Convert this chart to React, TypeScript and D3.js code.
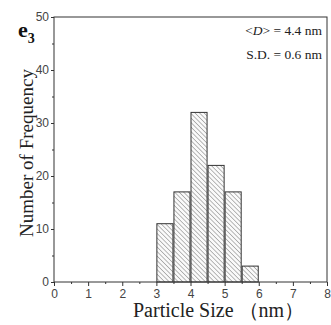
import React, { useEffect, useRef } from 'react';
import * as d3 from 'd3';

// histogram bins (nm) and counts
const binStarts = [3, 3.5, 4, 4.5, 5, 5.5];
const counts = [11, 17, 32, 22, 17, 3];
const xTicks = [0, 1, 2, 3, 4, 5, 6, 7, 8];
const yTicks = [0, 10, 20, 30, 40, 50];
const binWidth = 0.5;

const App = () => {
  const svgRef = useRef<SVGSVGElement>(null);

  useEffect(() => {
    const svg = d3.select(svgRef.current);
    svg.selectAll('*').remove();

    const width = 331;
    const height = 325;
    const left = 54;
    const right = 327;
    const top = 17;
    const bottom = 282;

    const x = d3.scaleLinear().domain([0, 8]).range([left, right]);
    const y = d3.scaleLinear().domain([0, 50]).range([bottom, top]);

    svg.append('rect').attr('width', width).attr('height', height).attr('fill', '#fff');

    // hatch pattern
    const pat = svg.append('defs').append('pattern')
      .attr('id', 'hatch')
      .attr('patternUnits', 'userSpaceOnUse')
      .attr('width', 3.2)
      .attr('height', 3.2)
      .attr('patternTransform', 'rotate(-45)');
    pat.append('rect').attr('width', 3.2).attr('height', 3.2).attr('fill', '#fafafa');
    pat.append('line')
      .attr('x1', 0).attr('y1', 0).attr('x2', 0).attr('y2', 3.2)
      .attr('stroke', '#555').attr('stroke-width', 0.8);

    // bars
    svg.selectAll('.bar')
      .data(binStarts)
      .enter().append('rect')
      .attr('class', 'bar')
      .attr('x', d => x(d) + 0.5)
      .attr('y', (d, i) => y(counts[i]))
      .attr('width', d => x(d + binWidth) - x(d) - 1)
      .attr('height', (d, i) => y(0) - y(counts[i]))
      .attr('fill', 'url(#hatch)')
      .attr('stroke', '#333')
      .attr('stroke-width', 1);

    // frame
    svg.append('rect')
      .attr('x', left).attr('y', top)
      .attr('width', right - left).attr('height', bottom - top)
      .attr('fill', 'none').attr('stroke', '#333').attr('stroke-width', 1);

    const axisColor = '#333';

    // x axis
    const gx = svg.append('g').attr('transform', `translate(0,${bottom})`);
    gx.call(d3.axisBottom(x).tickValues(xTicks).tickSize(4).tickSizeOuter(0).tickFormat(d3.format('d')));
    gx.append('g').call(d3.axisBottom(x).tickValues(d3.range(0.5, 8, 1)).tickSize(2).tickFormat(() => '').tickSizeOuter(0));

    // y axis
    const gy = svg.append('g').attr('transform', `translate(${left},0)`);
    gy.call(d3.axisLeft(y).tickValues(yTicks).tickSize(3).tickPadding(2).tickSizeOuter(0));
    gy.append('g').call(d3.axisLeft(y).tickValues(d3.range(5, 50, 10)).tickSize(2).tickFormat(() => '').tickSizeOuter(0));

    svg.selectAll('.domain').remove();
    svg.selectAll('.tick line').attr('stroke', axisColor);
    svg.selectAll('.tick text')
      .attr('font-family', 'Arial, "Liberation Sans", sans-serif')
      .attr('font-size', 12)
      .attr('fill', '#444');

    // axis titles
    svg.append('text')
      .attr('x', 133)
      .attr('y', 317)
      .attr('font-family', '"Liberation Serif", "Times New Roman", serif')
      .attr('font-size', 20)
      .attr('fill', '#222')
      .text('Particle Size （nm）');

    svg.append('text')
      .attr('transform', `translate(33,${153}) rotate(-90)`)
      .attr('text-anchor', 'middle')
      .attr('font-family', '"Liberation Serif", "Times New Roman", serif')
      .attr('font-size', 19)
      .attr('fill', '#222')
      .text('Number of Frequency');

    // panel label
    const lab = svg.append('text')
      .attr('x', 18).attr('y', 37)
      .attr('font-family', '"Liberation Serif", "Times New Roman", serif')
      .attr('font-size', 22)
      .attr('font-weight', 'bold')
      .attr('fill', '#111');
    lab.append('tspan').text('e');
    lab.append('tspan').attr('font-size', 14).attr('dy', 6).text('3');

    // annotations
    const ann = svg.append('g')
      .attr('font-family', '"Liberation Serif", "Times New Roman", serif')
      .attr('font-size', 13.5)
      .attr('fill', '#222');
    const t1 = ann.append('text').attr('x', 322).attr('y', 35).attr('text-anchor', 'end');
    t1.append('tspan').text('<');
    t1.append('tspan').attr('font-style', 'italic').text('D');
    t1.append('tspan').text('> = 4.4 nm');
    ann.append('text').attr('x', 322).attr('y', 59).attr('text-anchor', 'end').text('S.D. = 0.6 nm');
  }, []);

  return (
    <svg
      ref={svgRef}
      width="331"
      height="325"
      style={{ position: 'absolute', left: 0, top: 0 }}
    ></svg>
  );
};

export default App;
